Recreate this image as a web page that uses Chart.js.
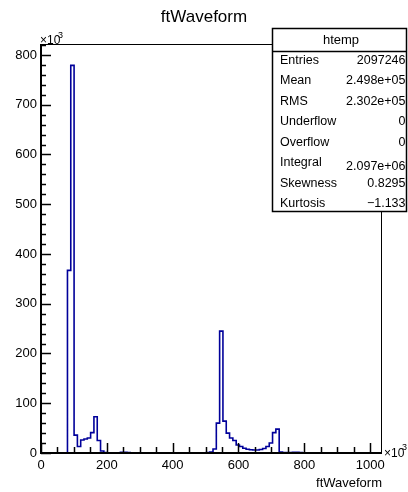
<!DOCTYPE html>
<html>
<head>
<meta charset="utf-8">
<script src="https://cdn.jsdelivr.net/npm/chart.js@4.4.1/dist/chart.umd.min.js"></script>
<style>
  body { margin: 0; background: #fff; }
  #wrap { width: 408px; height: 492px; }
</style>
</head>
<body>
<div id="wrap"><canvas id="c" width="408" height="492"></canvas></div>
<script>
// histogram htemp, bin width ~10.05, counts in units of 10^3
const binWidth = 10.05;
const counts = [
  0, 0, 0, 0, 0, 0, 0, 367, 779, 36,
  13, 26, 28, 30, 41, 73, 25, 4, 1, 0.5,
  0.3, 0.3, 0.5, 1.2, 1.5, 0.8, 0.3, 0.2, 0.2, 0.2,
  0.2, 0.2, 0.2, 0.2, 0.2, 0.2, 0.2, 0.2, 0.2, 0.2,
  0.2, 0.2, 0.2, 0.2, 0.2, 0.2, 0.3, 0.3, 0.5, 1,
  2, 8, 60, 245, 64, 40, 30, 25, 16, 13,
  9.5, 7.5, 6.5, 6, 6, 7, 9, 13, 20, 41,
  48, 2, 1, 0.8, 1, 1.5, 1.5, 1, 0.5, 0.2,
  0.2, 0.2, 0.2, 0.2, 0.1, 0.1, 0.1, 0.1, 0.1, 0.1,
  0, 0, 0, 0, 0, 0, 0, 0, 0, 0,
  0, 0, 0
];
const xTickLabels = [0, 200, 400, 600, 800, 1000];
const yTickLabels = [0, 100, 200, 300, 400, 500, 600, 700, 800];
const statNames = ["Entries", "Mean", "RMS", "Underflow", "Overflow", "Integral", "Skewness", "Kurtosis"];
const statValues = ["2097246", "2.498e+05", "2.302e+05", "0", "0", "2.097e+06", "0.8295", "\u22121.133"];

const FONT = '"Liberation Sans", Arial, Helvetica, sans-serif';
const lineColor = '#00009a';

// step points: one per bin high edge (value held from the previous edge), starting at 0
const points = [{ x: 0, y: 0 }];
counts.forEach((v, i) => points.push({ x: (i + 1) * binWidth, y: v }));

const rootDecor = {
  id: 'rootDecor',
  afterDraw(chart) {
    const ctx = chart.ctx;
    const a = chart.chartArea;
    const xs = chart.scales.x, ys = chart.scales.y;
    ctx.save();
    ctx.strokeStyle = '#000';
    ctx.fillStyle = '#000';

    // frame
    ctx.lineWidth = 1;
    ctx.beginPath();
    ctx.moveTo(a.left, a.top + 0.5);
    ctx.lineTo(a.right - 0.5, a.top + 0.5);
    ctx.lineTo(a.right - 0.5, a.bottom);
    ctx.stroke();
    ctx.lineWidth = 2;
    ctx.beginPath();
    ctx.moveTo(a.left, a.top);
    ctx.lineTo(a.left, a.bottom);
    ctx.lineTo(a.right, a.bottom);
    ctx.stroke();

    // y ticks: major every 100, minor every 20
    ctx.lineWidth = 1.5;
    for (let v = 0; v <= 820; v += 20) {
      const y = Math.round(ys.getPixelForValue(v)) + 0.5;
      const len = v % 100 === 0 ? 10 : 5;
      ctx.beginPath();
      ctx.moveTo(a.left, y);
      ctx.lineTo(a.left + len, y);
      ctx.stroke();
    }
    // x ticks: major every 200, minor every 50
    for (let v = 0; v <= 1030; v += 50) {
      const x = Math.round(xs.getPixelForValue(v)) + 0.5;
      const len = v % 200 === 0 ? 10 : 6;
      ctx.beginPath();
      ctx.moveTo(x, a.bottom);
      ctx.lineTo(x, a.bottom - len);
      ctx.stroke();
    }

    // title
    ctx.font = '17px ' + FONT;
    ctx.textAlign = 'center';
    ctx.textBaseline = 'alphabetic';
    ctx.fillText('ftWaveform', 204, 22);

    // x10^3 markers
    ctx.textAlign = 'left';
    ctx.font = '12px ' + FONT;
    ctx.fillText('\u00d710', 40, 44);
    ctx.font = '9px ' + FONT;
    ctx.fillText('3', 58, 38);
    ctx.font = '12px ' + FONT;
    ctx.fillText('\u00d710', 384, 457);
    ctx.font = '9px ' + FONT;
    ctx.fillText('3', 402, 450);

    // axis title
    ctx.font = '13px ' + FONT;
    ctx.textAlign = 'right';
    ctx.fillText('ftWaveform', 382, 487);

    // stats box
    const bx = 272.5, by = 28.5, bw = 134, bh = 183;
    ctx.fillStyle = '#fff';
    ctx.fillRect(bx, by, bw, bh);
    ctx.lineWidth = 1.5;
    ctx.strokeRect(bx, by, bw, bh);
    ctx.beginPath();
    ctx.moveTo(bx, 51.5);
    ctx.lineTo(bx + bw, 51.5);
    ctx.stroke();
    ctx.fillStyle = '#000';
    ctx.font = '13px ' + FONT;
    ctx.textAlign = 'center';
    ctx.textBaseline = 'middle';
    ctx.fillText('htemp', 341, 40);
    ctx.font = '12.5px ' + FONT;
    statNames.forEach((name, i) => {
      const y = 60.5 + i * 20.5;
      ctx.textAlign = 'left';
      ctx.fillText(name, 280, y);
      ctx.textAlign = 'right';
      ctx.fillText(statValues[i], 405.5, name === 'Integral' ? y + 4 : y);
    });
    ctx.restore();
  }
};

new Chart(document.getElementById('c'), {
  type: 'line',
  data: {
    datasets: [{
      data: points,
      borderColor: lineColor,
      borderWidth: 1.6,
      pointRadius: 0,
      stepped: 'before',
      fill: false
    }]
  },
  options: {
    responsive: false,
    animation: false,
    layout: { padding: { top: 44, right: 26, left: 0, bottom: 0 } },
    plugins: { legend: { display: false }, tooltip: { enabled: false }, title: { display: false } },
    scales: {
      x: {
        type: 'linear',
        min: 0,
        max: 1036,
        afterFit: s => { s.height = 39; },
        afterBuildTicks: s => { s.ticks = xTickLabels.map(v => ({ value: v })); },
        grid: { display: false },
        border: { display: false },
        ticks: { color: '#000', font: { size: 13, family: FONT }, padding: -3, maxRotation: 0, autoSkip: false,
                 callback: v => String(v) }
      },
      y: {
        type: 'linear',
        min: 0,
        max: 822,
        afterFit: s => { s.width = 41; },
        afterBuildTicks: s => { s.ticks = yTickLabels.map(v => ({ value: v })); },
        grid: { display: false },
        border: { display: false },
        ticks: { color: '#000', font: { size: 13, family: FONT }, padding: -4, callback: v => String(v) }
      }
    }
  },
  plugins: [rootDecor]
});
</script>
</body>
</html>
